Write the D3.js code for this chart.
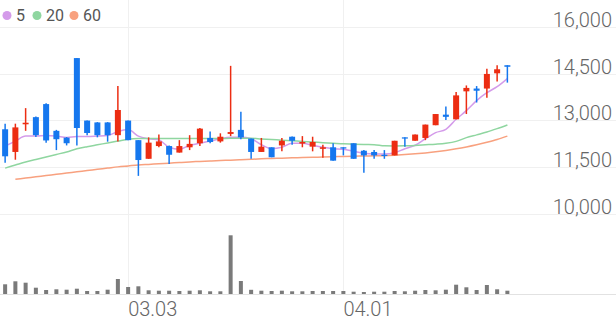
<!DOCTYPE html>
<html>
<head>
  <meta charset="utf-8">
  <title>Candlestick chart</title>
  <style>
    body { margin: 0; background: #fff; }
    text { font-family: Roboto, "Noto Sans", sans-serif; }
  </style>
  <script src="https://d3js.org/d3.v7.min.js"></script>
</head>
<body>
  <div id="chart"></div>
  <script>
    // trading days, one per candle
    const dates = [
      '02.13', '02.14', '02.17', '02.18', '02.19', '02.20', '02.21', '02.24', '02.25', '02.26',
      '02.27', '02.28', '03.03', '03.04', '03.05', '03.06', '03.07', '03.10', '03.11', '03.12',
      '03.13', '03.14', '03.17', '03.18', '03.19', '03.20', '03.21', '03.24', '03.25', '03.26',
      '03.27', '03.28', '03.31', '04.01', '04.02', '04.03', '04.04', '04.07', '04.08', '04.09',
      '04.10', '04.11', '04.14', '04.15', '04.16', '04.17', '04.18', '04.21', '04.22', '04.23'
    ];
    const open = [
      12710, 11980, 12870, 13100, 13520, 12660, 12440, 15000, 12990, 12930,
      12930, 12520, 12990, 12360, 11760, 12170, 12170, 11960, 12130, 12260,
      12430, 12320, 12560, 12690, 12410, 11980, 12130, 12190, 12470, 12250,
      12150, 12080, 12130, 12130, 12260, 12020, 11980, 11890, 11870, 12450,
      12340, 12430, 12840, 13180, 13030, 13930, 14020, 14020, 14510, 14770
    ];
    const high = [
      12890, 12890, 13390, 13120, 13550, 12690, 12460, 15000, 12990, 12940,
      12940, 14100, 12990, 12360, 12450, 12540, 12190, 12360, 12520, 12750,
      12640, 12580, 14750, 13270, 12410, 12430, 12130, 12430, 12480, 12490,
      12470, 12210, 12260, 12130, 12260, 12040, 12040, 12040, 12340, 12450,
      12540, 12860, 13200, 13440, 13910, 14120, 14100, 14660, 14770, 14770
    ];
    const low = [
      11630, 11730, 12660, 12460, 12280, 12040, 12190, 12190, 12520, 12450,
      12310, 12320, 12360, 11210, 11760, 12130, 11590, 11960, 12040, 12170,
      12260, 12280, 12490, 12390, 11760, 11980, 11810, 12000, 12210, 12130,
      12000, 11790, 11700, 11870, 11760, 11310, 11760, 11760, 11870, 12150,
      12340, 12360, 12840, 13010, 13030, 13200, 13570, 13720, 14250, 14210
    ];
    const close = [
      11840, 12770, 12920, 12520, 12350, 12390, 12260, 12750, 12590, 12520,
      12520, 13330, 12360, 11720, 12280, 12320, 11890, 12170, 12240, 12730,
      12300, 12470, 12620, 12450, 11980, 12150, 11810, 12340, 12340, 12300,
      12300, 12130, 11700, 12090, 11760, 11870, 11870, 11850, 12340, 12410,
      12540, 12860, 13200, 13110, 13800, 14040, 13950, 14490, 14640, 14720
    ];
    const volume = [
      194000, 254000, 226000, 126000, 80000, 94000, 86000, 106000, 60000, 60000,
      86000, 300000, 140000, 154000, 74000, 66000, 66000, 60000, 66000, 74000,
      54000, 54000, 1174000, 260000, 84000, 66000, 60000, 66000, 54000, 54000,
      60000, 60000, 60000, 60000, 46000, 40000, 46000, 46000, 60000, 54000,
      66000, 80000, 74000, 86000, 186000, 134000, 80000, 180000, 94000, 66000
    ];
    const ma5 = [
      12170, 12330, 12490, 12490, 12510, 12490, 12445, 12475, 12475, 12490,
      12510, 12640, 12700, 12490, 12405, 12365, 12130, 12065, 12195, 12260,
      12330, 12405, 12450, 12450, 12405, 12215, 12085, 12130, 12260, 12260,
      12195, 12130, 12085, 12065, 12000, 11935, 11915, 11915, 11955, 12085,
      12195, 12405, 12600, 12710, 13030, 13310, 13630, 13885, 14080, 14340
    ];
    const ma20 = [
      11460, 11560, 11660, 11740, 11820, 11900, 11980, 12080, 12150, 12210,
      12270, 12330, 12390, 12410, 12410, 12410, 12410, 12410, 12410, 12410,
      12410, 12410, 12420, 12420, 12420, 12400, 12380, 12360, 12340, 12320,
      12300, 12280, 12260, 12240, 12230, 12220, 12215, 12180, 12175, 12180,
      12190, 12210, 12230, 12260, 12320, 12440, 12530, 12620, 12730, 12850
    ];
    const ma60 = [
      null, 11100, 11140, 11180, 11220, 11260, 11300, 11340, 11380, 11420,
      11460, 11500, 11530, 11560, 11580, 11600, 11620, 11640, 11660, 11675,
      11690, 11705, 11715, 11730, 11745, 11760, 11770, 11780, 11790, 11800,
      11810, 11815, 11825, 11835, 11845, 11850, 11855, 11860, 11875, 11895,
      11920, 11950, 11985, 12030, 12080, 12140, 12210, 12290, 12380, 12490
    ];
    const priceTicks = [10000, 11500, 13000, 14500, 16000];
    const dateTicks = ['03.03', '04.01'];
    const maNames = ['5', '20', '60'];

    const width = 616, height = 321;
    const upColor = '#ec2d12', downColor = '#1577ee';
    const maColors = ['#d49bea', '#8fd6a0', '#f8a17f'];

    const svg = d3.select('#chart')
      .append('svg')
        .attr('width', width)
        .attr('height', height);

    const x = d3.scaleBand()
      .domain(dates)
      .range([0, 512.5]);
    const cx = d => x(d) + x.bandwidth() / 2;

    const y = d3.scaleLinear()
      .domain([10000, 16000])
      .range([213.5, 27]);

    const yVol = d3.scaleLinear()
      .domain([0, 1200000])
      .range([294, 234]);

    // grid
    svg.append('g')
      .selectAll('line')
      .data(priceTicks)
      .join('line')
        .attr('x1', 0).attr('x2', width)
        .attr('y1', d => Math.round(y(d)) + 0.5)
        .attr('y2', d => Math.round(y(d)) + 0.5)
        .attr('stroke', '#f0f0f0');

    svg.append('g')
      .selectAll('line')
      .data(dateTicks)
      .join('line')
        .attr('x1', d => Math.round(cx(d)) + 0.5)
        .attr('x2', d => Math.round(cx(d)) + 0.5)
        .attr('y1', 0).attr('y2', 294)
        .attr('stroke', '#f0f0f0');

    svg.append('line')
      .attr('x1', 0).attr('x2', width)
      .attr('y1', 294.5).attr('y2', 294.5)
      .attr('stroke', '#e2e2e2');

    // price labels on the right
    svg.append('g')
      .selectAll('text')
      .data(priceTicks)
      .join('text')
        .attr('x', 612)
        .attr('y', d => Math.max(y(d), 22))
        .attr('text-anchor', 'end')
        .attr('font-size', 20)
        .attr('font-weight', 300)
        .attr('fill', '#666')
        .text(d => d3.format(',')(d));

    // date labels
    svg.append('g')
      .selectAll('text')
      .data(dateTicks)
      .join('text')
        .attr('x', d => cx(d))
        .attr('y', 316)
        .attr('font-size', 20)
        .attr('font-weight', 300)
        .attr('fill', '#666')
        .text(d => d);

    // moving averages
    [ma5, ma20, ma60].forEach((ma, k) => {
      const line = d3.line()
        .defined(i => ma[i] != null)
        .x(i => cx(dates[i]))
        .y(i => y(ma[i]))
        .curve(d3.curveMonotoneX);
      svg.append('path')
        .datum(d3.range(dates.length))
        .attr('fill', 'none')
        .attr('stroke', maColors[k])
        .attr('stroke-width', 1.5)
        .attr('d', line);
    });

    // candles
    const idx = d3.range(dates.length);
    const color = i => close[i] >= open[i] ? upColor : downColor;
    const candles = svg.append('g')
      .selectAll('g')
      .data(idx)
      .join('g');

    candles.append('line')
      .attr('x1', i => cx(dates[i]))
      .attr('x2', i => cx(dates[i]))
      .attr('y1', i => y(high[i]))
      .attr('y2', i => y(low[i]))
      .attr('stroke', color)
      .attr('stroke-width', 1.5);

    candles.append('rect')
      .attr('x', i => cx(dates[i]) - 3)
      .attr('width', 6)
      .attr('y', i => y(Math.max(open[i], close[i])))
      .attr('height', i => Math.max(1.2, Math.abs(y(open[i]) - y(close[i]))))
      .attr('fill', color);

    // volume
    svg.append('g')
      .selectAll('rect')
      .data(idx)
      .join('rect')
        .attr('x', i => cx(dates[i]) - 2)
        .attr('width', 4)
        .attr('y', i => yVol(volume[i]))
        .attr('height', i => yVol(0) - yVol(volume[i]))
        .attr('fill', '#7a7a7a');

    // legend
    const legend = svg.append('g');
    const legendX = [7, 37, 74];
    maNames.forEach((name, k) => {
      legend.append('circle')
        .attr('cx', legendX[k]).attr('cy', 15.5).attr('r', 4.5)
        .attr('fill', maColors[k]);
      legend.append('text')
        .attr('x', legendX[k] + 9)
        .attr('y', 21)
        .attr('font-size', 16)
        .attr('fill', '#555')
        .text(name);
    });
  </script>
</body>
</html>
